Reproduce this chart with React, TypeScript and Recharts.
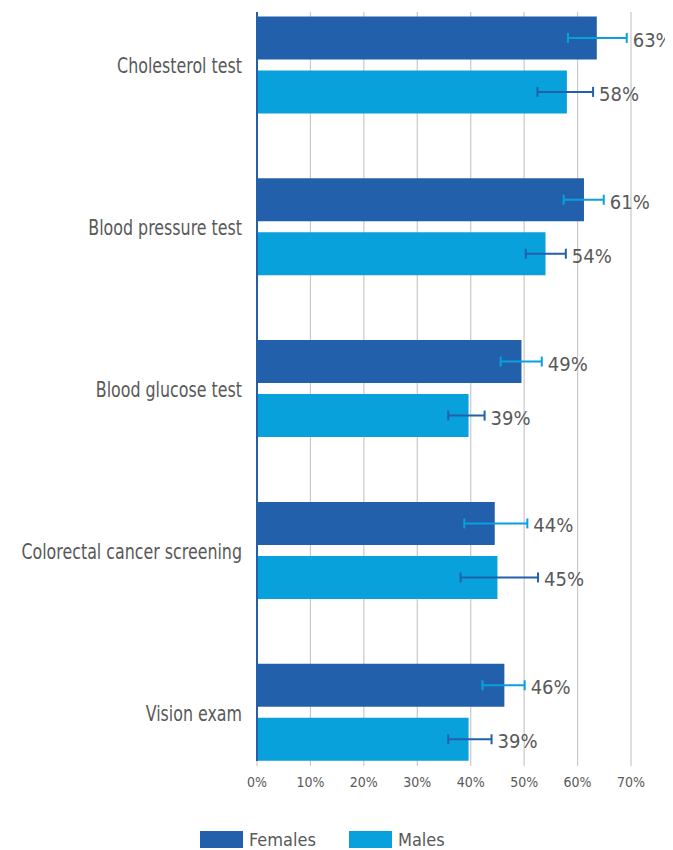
import React from "react";
import {
  BarChart,
  Bar,
  XAxis,
  YAxis,
  CartesianGrid,
  ErrorBar,
  LabelList,
  Legend,
} from "recharts";

const categories = [
  "Cholesterol test",
  "Blood pressure test",
  "Blood glucose test",
  "Colorectal cancer screening",
  "Vision exam",
];
const females = [63.6, 61.2, 49.5, 44.5, 46.3];
const males = [58.0, 54.0, 39.6, 45.0, 39.6];
const femaleLow = [58.2, 57.4, 45.6, 38.8, 42.2];
const femaleHigh = [69.2, 64.9, 53.3, 50.6, 50.1];
const maleLow = [52.5, 50.3, 35.8, 38.1, 35.8];
const maleHigh = [62.9, 57.8, 42.6, 52.6, 43.9];
const femaleLabels = ["63%", "61%", "49%", "44%", "46%"];
const maleLabels = ["58%", "54%", "39%", "45%", "39%"];
const xTicks = [0, 10, 20, 30, 40, 50, 60, 70];

const FEMALE = "#2360ab";
const MALE = "#09a1dc";
const TEXT = "#595959";
const GRID = "#c8c8c8";
const FONT = "'Liberation Sans Narrow', 'DejaVu Sans Condensed', 'Liberation Sans', sans-serif";

const data = categories.map((c, i) => ({
  name: c,
  Females: females[i],
  Males: males[i],
  fErr: [females[i] - femaleLow[i], femaleHigh[i] - females[i]],
  mErr: [males[i] - maleLow[i], maleHigh[i] - males[i]],
}));

const makeLabel = (labels: string[], highs: number[], vals: number[]) => (props: any) => {
  const { x, y, width, height, index } = props;
  const hx = Number(x) + (Number(width) * highs[index]) / vals[index];
  return (
    <text
      x={hx + 6}
      y={Number(y) + Number(height) / 2 + 2}
      dominantBaseline="central"
      fill={TEXT}
      fontSize={20}
      fontFamily={FONT}
    >
      {labels[index]}
    </text>
  );
};

const CategoryTick = (props: any) => {
  const { x, y, payload } = props;
  return (
    <g transform={`translate(${x},${y + 1})`}>
      <text
        transform="scale(0.84,1)"
        textAnchor="end"
        dominantBaseline="central"
        fill={TEXT}
        fontSize={21}
        fontFamily={FONT}
      >
        {payload.value}
      </text>
    </g>
  );
};

const LegendContent = (props: any) => {
  const items = props.payload || [];
  return (
    <div style={{ display: "flex", alignItems: "center", height: 17, fontFamily: FONT }}>
      {items.map((it: any, i: number) => (
        <div key={i} style={{ display: "flex", alignItems: "center", marginRight: i === 0 ? 33 : 0 }}>
          <div style={{ width: 43, height: 17, background: it.color, marginRight: 6 }} />
          <span style={{ fontSize: 18, color: TEXT }}>{it.value}</span>
        </div>
      ))}
    </div>
  );
};

export default function App() {
  return (
    <div style={{ width: 665, height: 842 }}>
      <BarChart
        width={665}
        height={842}
        data={data}
        layout="vertical"
        margin={{ top: 4, right: 42, bottom: 32, left: 0 }}
        barSize={43}
        barGap={11}
      >
        <CartesianGrid horizontal={false} stroke={GRID} strokeWidth={1.2} />
        <XAxis
          type="number"
          domain={[0, 70]}
          ticks={xTicks}
          tickFormatter={(v: number) => `${v}%`}
          axisLine={false}
          tickLine={{ stroke: GRID, strokeWidth: 1.2 }}
          tickSize={5}
          tickMargin={11}
          height={40}
          tick={{ fill: TEXT, fontSize: 14, fontFamily: FONT }}
        />
        <YAxis
          type="category"
          dataKey="name"
          width={249}
          axisLine={{ stroke: FEMALE, strokeWidth: 2 }}
          tickLine={false}
          tickSize={0}
          tickMargin={15}
          padding={{ top: -27.6, bottom: -32.6 }}
          tick={<CategoryTick />}
        />
        <Legend
          content={<LegendContent />}
          verticalAlign="bottom"
          wrapperStyle={{ left: 192, top: 823, height: 17, width: 300 }}
        />
        <Bar dataKey="Females" fill={FEMALE} isAnimationActive={false}>
          <ErrorBar dataKey="fErr" direction="x" stroke={MALE} strokeWidth={2} width={5} />
          <LabelList dataKey="Females" content={makeLabel(femaleLabels, femaleHigh, females)} />
        </Bar>
        <Bar dataKey="Males" fill={MALE} isAnimationActive={false}>
          <ErrorBar dataKey="mErr" direction="x" stroke={FEMALE} strokeWidth={2} width={5} />
          <LabelList dataKey="Males" content={makeLabel(maleLabels, maleHigh, males)} />
        </Bar>
      </BarChart>
    </div>
  );
}
